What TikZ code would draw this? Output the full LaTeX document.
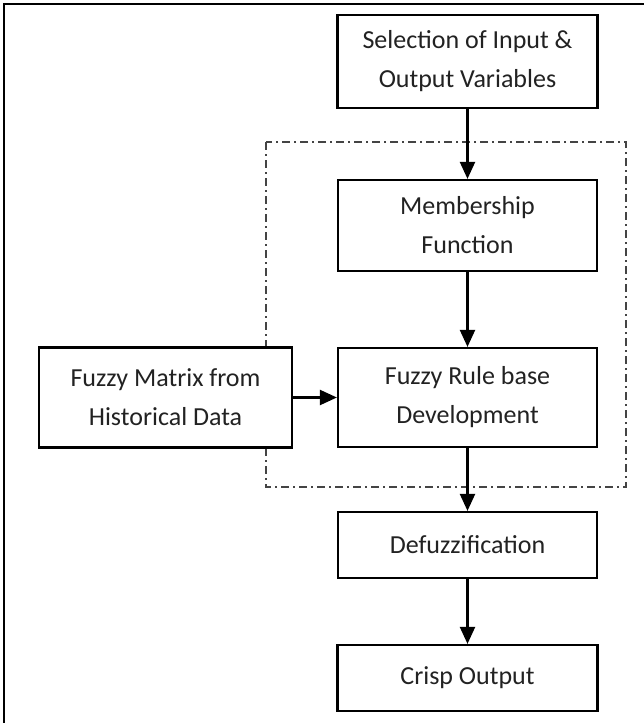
\documentclass[tikz,border=0pt]{standalone}
\usepackage{fontspec}
\setmainfont{Carlito}
\usetikzlibrary{arrows.meta}
\definecolor{txtgray}{HTML}{222222}
\definecolor{dashgray}{HTML}{444444}

\begin{document}
\begin{tikzpicture}[x=1pt,y=-1pt,
  every node/.style={rectangle,draw,fill=white,line width=2.2pt,inner sep=0pt,align=center,
    text=txtgray,font=\fontsize{26}{39}\selectfont},
  arr/.style={line width=2.2pt,-{Triangle[length=17pt,width=15pt]}}]
  \useasboundingbox (0,0) rectangle (644,723);
  \draw[line width=1.5pt] (4,723) -- (4,4) -- (644,4);
  \draw[dashgray,line width=2.4pt,dash pattern=on 8pt off 4pt on 2pt off 4pt] (266,142) rectangle (626,487);
  \node[minimum width=260pt,minimum height=93pt](select) at (467.5,61.5) {Selection of Input \&\\Output Variables};
    \node[minimum width=259pt,minimum height=91pt](member) at (467.5,225.5) {Membership\\Function};
    \node[minimum width=259pt,minimum height=99pt](rulebase) at (467.5,397.5) {Fuzzy Rule base\\Development};
    \node[minimum width=253pt,minimum height=100pt](matrix) at (165.5,397.5) {Fuzzy Matrix from\\Historical Data};
    \node[minimum width=259pt,minimum height=66pt](defuzz) at (467.5,545) {Defuzzification};
    \node[minimum width=260pt,minimum height=66pt](crisp) at (467.5,678) {Crisp Output};
    \draw[arr] (select) -- (member);
    \draw[arr] (member) -- (rulebase);
    \draw[arr] (matrix) -- (rulebase);
    \draw[arr] (rulebase) -- (defuzz);
    \draw[arr] (defuzz) -- (crisp);
\end{tikzpicture}
\end{document}
